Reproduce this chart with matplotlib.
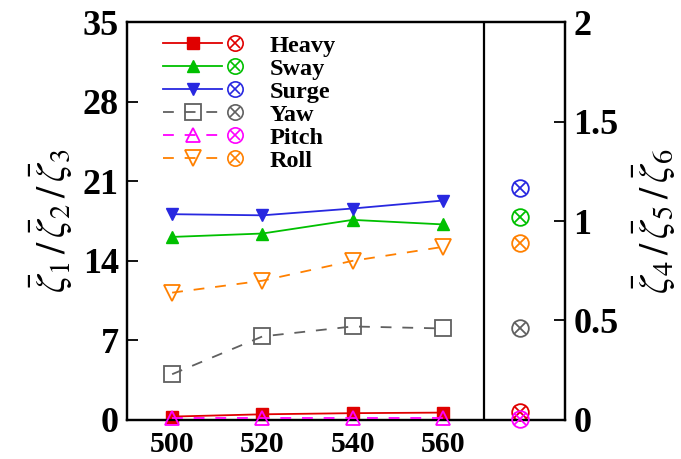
import numpy as np
import matplotlib
matplotlib.use("Agg")
import matplotlib.pyplot as plt
from matplotlib.lines import Line2D
from matplotlib.legend_handler import HandlerLine2D

plt.rcParams["font.family"] = "Liberation Serif"
plt.rcParams["mathtext.fontset"] = "stix"

# wave periods / frequencies on the x axis
x = [500, 520, 540, 560]

# translational ratios (left axis)
heavy = [0.3, 0.5, 0.6, 0.65]
sway = [16.1, 16.4, 17.6, 17.2]
surge = [18.1, 18.0, 18.6, 19.3]

# rotational ratios (right axis)
yaw = [0.23, 0.42, 0.47, 0.46]
pitch = [0.01, 0.01, 0.01, 0.01]
roll = [0.64, 0.70, 0.80, 0.87]

# reference values shown in the right panel
ref_left = {"Heavy": 0.7, "Sway": 17.85, "Surge": 20.4}
ref_right = {"Yaw": 0.46, "Pitch": 0.005, "Roll": 0.89}

names = ["Heavy", "Sway", "Surge", "Yaw", "Pitch", "Roll"]
colors = {"Heavy": "#e00000", "Sway": "#00c000", "Surge": "#2828e0",
          "Yaw": "#606060", "Pitch": "#ff00ff", "Roll": "#ff8000"}

X_REF = 577
X_DIV = 569


class LineCircleHandler(HandlerLine2D):
    """line + marker, followed by a circled cross"""
    def create_artists(self, legend, orig_handle, xdescent, ydescent,
                       width, height, fontsize, trans):
        arts = super().create_artists(legend, orig_handle, xdescent, ydescent,
                                      width * 0.72, height, fontsize, trans)
        cx = -xdescent + width * 0.87
        cy = (height - ydescent) / 2.0
        col = orig_handle.get_color()
        c = Line2D([cx], [cy], marker="o", ms=11, mfc="none", mec=col,
                   mew=1.2, ls="none", transform=trans)
        k = Line2D([cx], [cy], marker="x", ms=7.5, mec=col, mew=1.2,
                   ls="none", transform=trans)
        return arts + [c, k]


def circled(ax, xv, yv, col):
    ax.plot([xv], [yv], "o", ms=12, mfc="none", mec=col, mew=1.3,
            clip_on=False, zorder=5)
    ax.plot([xv], [yv], "x", ms=8, mec=col, mew=1.3, clip_on=False, zorder=5)


fig = plt.figure(figsize=(6.81, 4.59), dpi=100)
ax = fig.add_axes([0.1865, 0.085, 0.643, 0.867])
ax2 = ax.twinx()

handles = []
h, = ax.plot(x, heavy, "-s", color=colors["Heavy"], ms=9, lw=1.3, clip_on=False, zorder=4)
handles.append(h)
h, = ax.plot(x, sway, "-^", color=colors["Sway"], ms=9, lw=1.3, clip_on=False)
handles.append(h)
h, = ax.plot(x, surge, "-v", color=colors["Surge"], ms=9, lw=1.3, clip_on=False)
handles.append(h)
h, = ax2.plot(x, yaw, "--s", color=colors["Yaw"], ms=11, mfc="none", mew=1.3,
              lw=1.3, dashes=(6, 6), clip_on=False)
handles.append(h)
h, = ax2.plot(x, pitch, "--^", color=colors["Pitch"], ms=10, mfc="none", mew=1.3,
              lw=1.3, dashes=(6, 6), clip_on=False, zorder=5)
handles.append(h)
h, = ax2.plot(x, roll, "--v", color=colors["Roll"], ms=11, mfc="none", mew=1.3,
              lw=1.3, dashes=(6, 6), clip_on=False)
handles.append(h)

for n, v in ref_left.items():
    circled(ax, X_REF, v, colors[n])
for n, v in ref_right.items():
    circled(ax2, X_REF, v, colors[n])

ax.axvline(X_DIV, color="black", lw=1.6)

ax.set_xlim(490, 587)
ax.set_ylim(0, 35)
ax2.set_ylim(0, 2)
ax.set_xticks(x)
ax.set_yticks([0, 7, 14, 21, 28, 35])
ax2.set_yticks([0, 0.5, 1, 1.5, 2])
ax2.set_yticklabels(["0", "0.5", "1", "1.5", "2"])

for a in (ax, ax2):
    for s in a.spines.values():
        s.set_linewidth(1.6)
    a.tick_params(axis="y", direction="in", length=8, width=1.3, labelsize=26, pad=6)
    for lab in a.get_yticklabels():
        lab.set_fontweight("bold")
ax.tick_params(axis="x", length=0, labelsize=21.5, pad=8)
for lab in ax.get_xticklabels():
    lab.set_fontweight("bold")

ax.set_ylabel(r"$\bar{\zeta}_1\,/\,\bar{\zeta}_2\,/\,\bar{\zeta}_3$", fontsize=29, labelpad=5)
ax2.set_ylabel(r"$\bar{\zeta}_4\,/\,\bar{\zeta}_5\,/\,\bar{\zeta}_6$", fontsize=29, labelpad=9)

leg = ax.legend(handles, names, loc="upper left", bbox_to_anchor=(0.05, 1.005),
                frameon=False, handlelength=3.37, handletextpad=1.0,
                labelspacing=0.04, borderaxespad=0.2,
                prop={"family": "Liberation Serif", "weight": "bold", "size": 17.5},
                handler_map={Line2D: LineCircleHandler()})

fig.savefig("out.png", dpi=100)
